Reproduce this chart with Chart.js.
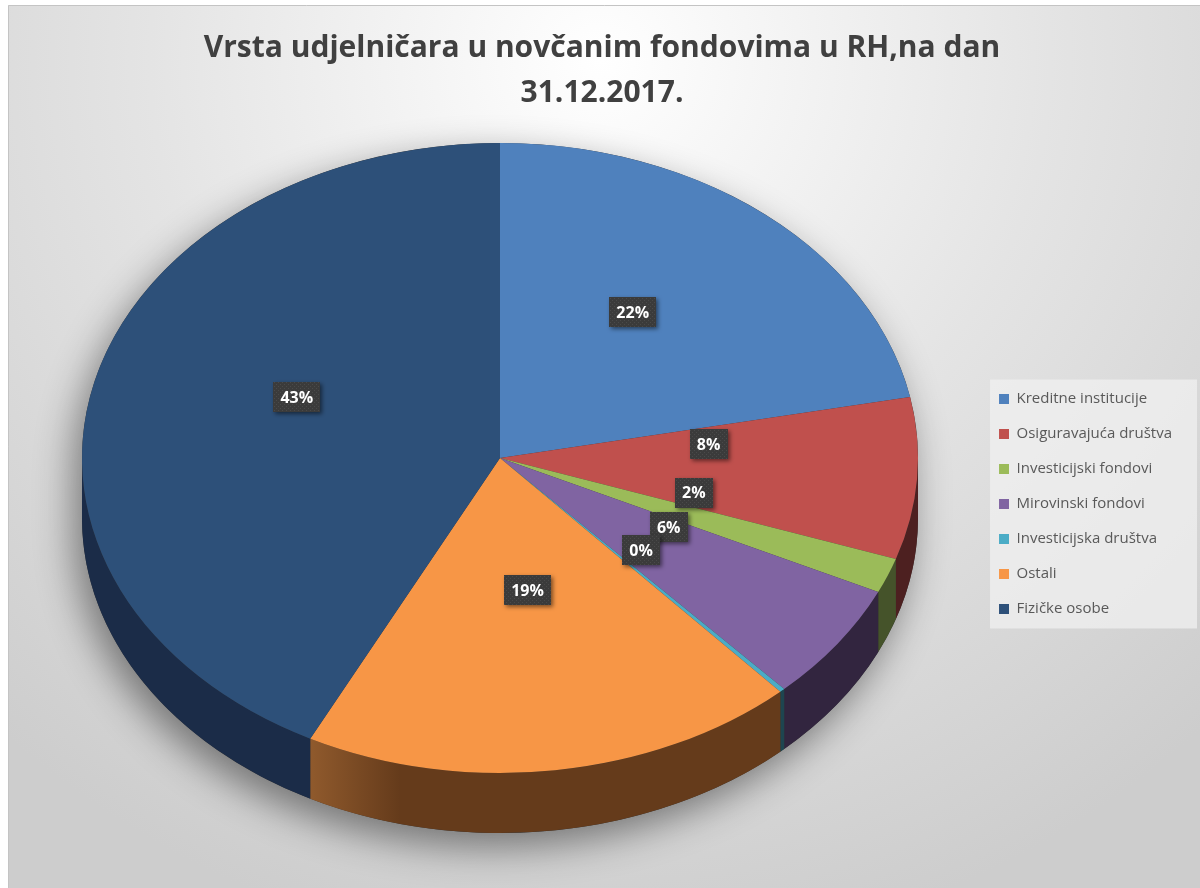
<!DOCTYPE html>
<html>
<head>
<meta charset="utf-8">
<script src="https://cdn.jsdelivr.net/npm/chart.js@4/dist/chart.umd.min.js"></script>
<style>
  html, body { margin: 0; padding: 0; background: #fff; }
  canvas { display: block; }
</style>
</head>
<body>
<canvas id="pita" width="1200" height="888"></canvas>
<script>
const kategorije = ['Kreditne institucije', 'Osiguravajuća društva', 'Investicijski fondovi', 'Mirovinski fondovi', 'Investicijska društva', 'Ostali', 'Fizičke osobe'];
const udjeli = [21.9, 8.3, 1.8, 6.1, 0.2, 19.2, 42.5];
const naslov = ['Vrsta udjelničara u novčanim fondovima u RH,na dan', '31.12.2017.'];

const boje = ['#4f81bd', '#c0504d', '#9bbb59', '#8064a2', '#4bacc6', '#f79646', '#2d5079'];
const bojeStrana = ['#203450', '#4d2020', '#45532a', '#32253f', '#1e4550', '#653b1b', '#1b2c48'];

// elipsa na koju se pita "polegne" (3D izgled kao u Excelu)
const PX = 500, PY = 458, RX = 418, RY = 315, DUBINA = 60;

// tockasta tekstura za kucice s postocima
const uzorak = document.createElement('canvas');
uzorak.width = 4; uzorak.height = 4;
const uctx = uzorak.getContext('2d');
uctx.fillStyle = '#3b3b3b';
uctx.fillRect(0, 0, 4, 4);
uctx.fillStyle = '#4a4a4a';
uctx.fillRect(0, 0, 1, 1);
uctx.fillRect(2, 2, 1, 1);

const pozadina = {
  id: 'pozadina',
  afterLayout(chart) {
    // legenda nize i malo lijevo, kao u originalu
    const lg = chart.legend;
    lg.top += 60; lg.bottom += 60;
    lg.left -= 12; lg.right -= 12;
  },
  beforeDraw(chart) {
    const ctx = chart.ctx;
    ctx.save();
    ctx.fillStyle = '#fff';
    ctx.fillRect(0, 0, chart.width, chart.height);
    const g = ctx.createRadialGradient(600, 60, 0, 600, 60, 900);
    g.addColorStop(0, '#ffffff');
    g.addColorStop(0.5, '#e4e4e4');
    g.addColorStop(1, '#cdcdcd');
    ctx.fillStyle = g;
    ctx.fillRect(8, 5, chart.width - 8, chart.height - 5);
    ctx.strokeStyle = '#c4c4c4';
    ctx.lineWidth = 1;
    ctx.beginPath();
    ctx.moveTo(8.5, chart.height);
    ctx.lineTo(8.5, 5.5);
    ctx.lineTo(chart.width, 5.5);
    ctx.stroke();

    // okvir legende
    const hb = chart.legend.legendHitBoxes;
    if (hb && hb.length) {
      const x0 = hb[0].left - 9, y0 = hb[0].top - 12;
      const last = hb[hb.length - 1];
      ctx.fillStyle = 'rgba(240,240,240,0.75)';
      ctx.fillRect(x0, y0, chart.width - 3 - x0, last.top + last.height + 12 - y0);
    }
    ctx.restore();
  }
};

const pita3d = {
  id: 'pita3d',
  beforeDatasetsDraw(chart) {
    const ctx = chart.ctx;
    const luk = chart.getDatasetMeta(0).data;

    // sjena ispod pite
    ctx.save();
    ctx.shadowColor = 'rgba(0,0,0,0.45)';
    ctx.shadowBlur = 38;
    ctx.shadowOffsetY = 14;
    ctx.shadowOffsetX = -8;
    ctx.fillStyle = '#333';
    ctx.beginPath();
    ctx.ellipse(PX, PY + DUBINA, RX, RY, 0, 0, Math.PI);
    ctx.ellipse(PX, PY, RX, RY, 0, Math.PI, 2 * Math.PI);
    ctx.closePath();
    ctx.fill();
    ctx.restore();

    // bocne stranice (vidljiva je samo donja polovica)
    luk.forEach((el, i) => {
      const a = Math.max(el.startAngle, 0);
      const b = Math.min(el.endAngle, Math.PI);
      if (b <= a) return;
      const xl = PX + RX * Math.cos(b);
      ctx.save();
      ctx.fillStyle = bojeStrana[i];
      ctx.beginPath();
      ctx.ellipse(PX, PY + DUBINA, RX, RY, 0, a, b);
      ctx.ellipse(PX, PY, RX, RY, 0, b, a, true);
      ctx.closePath();
      ctx.fill();
      // svjetliji odsjaj na lijevom rubu narancaste stranice
      if (i === 5) {
        const s = ctx.createLinearGradient(xl, 0, xl + 90, 0);
        s.addColorStop(0, 'rgba(255,170,90,0.28)');
        s.addColorStop(1, 'rgba(255,170,90,0)');
        ctx.fillStyle = s;
        ctx.fill();
      }
      ctx.restore();
    });

    // gornja ploha: krug iz Chart.js pretvoren u elipsu
    const e = luk[0];
    ctx.save();
    ctx.translate(PX, PY);
    ctx.scale(RX / e.outerRadius, RY / e.outerRadius);
    ctx.translate(-e.x, -e.y);
  },
  afterDatasetsDraw(chart) {
    const ctx = chart.ctx;
    ctx.restore();
    const luk = chart.getDatasetMeta(0).data;
    const podaci = chart.data.datasets[0].data;
    ctx.save();
    ctx.font = 'bold 16px "Open Sans", sans-serif';
    ctx.textAlign = 'center';
    ctx.textBaseline = 'middle';
    luk.forEach((el, i) => {
      const sred = (el.startAngle + el.endAngle) / 2;
      const x = PX + 0.5 * RX * Math.cos(sred);
      const y = PY + 0.5 * RY * Math.sin(sred) - 24;
      const tekst = Math.round(podaci[i]) + '%';
      const w = ctx.measureText(tekst).width + 14, h = 30;
      ctx.save();
      ctx.shadowColor = 'rgba(0,0,0,0.5)';
      ctx.shadowBlur = 4;
      ctx.shadowOffsetX = 2;
      ctx.shadowOffsetY = 2;
      ctx.fillStyle = ctx.createPattern(uzorak, 'repeat');
      ctx.fillRect(Math.round(x - w / 2), Math.round(y - h / 2), Math.round(w), h);
      ctx.restore();
      ctx.fillStyle = '#ffffff';
      ctx.fillText(tekst, x, y + 1);
    });
    ctx.restore();
  }
};

new Chart(document.getElementById('pita'), {
  type: 'pie',
  data: {
    labels: kategorije,
    datasets: [{
      data: udjeli,
      backgroundColor: boje,
      borderWidth: 0
    }]
  },
  options: {
    responsive: false,
    animation: false,
    layout: { padding: { left: 10, right: 6 } },
    plugins: {
      title: {
        display: true,
        text: naslov,
        color: '#404040',
        font: { family: '"Open Sans", sans-serif', size: 30, weight: 'bold', lineHeight: 1.5 },
        padding: { top: 26, bottom: 20 }
      },
      legend: {
        position: 'right',
        labels: {
          color: '#595959',
          font: { family: '"Open Sans", sans-serif', size: 15 },
          boxWidth: 10,
          boxHeight: 10,
          padding: 20
        }
      },
      tooltip: { enabled: false }
    }
  },
  plugins: [pozadina, pita3d]
});
</script>
</body>
</html>
